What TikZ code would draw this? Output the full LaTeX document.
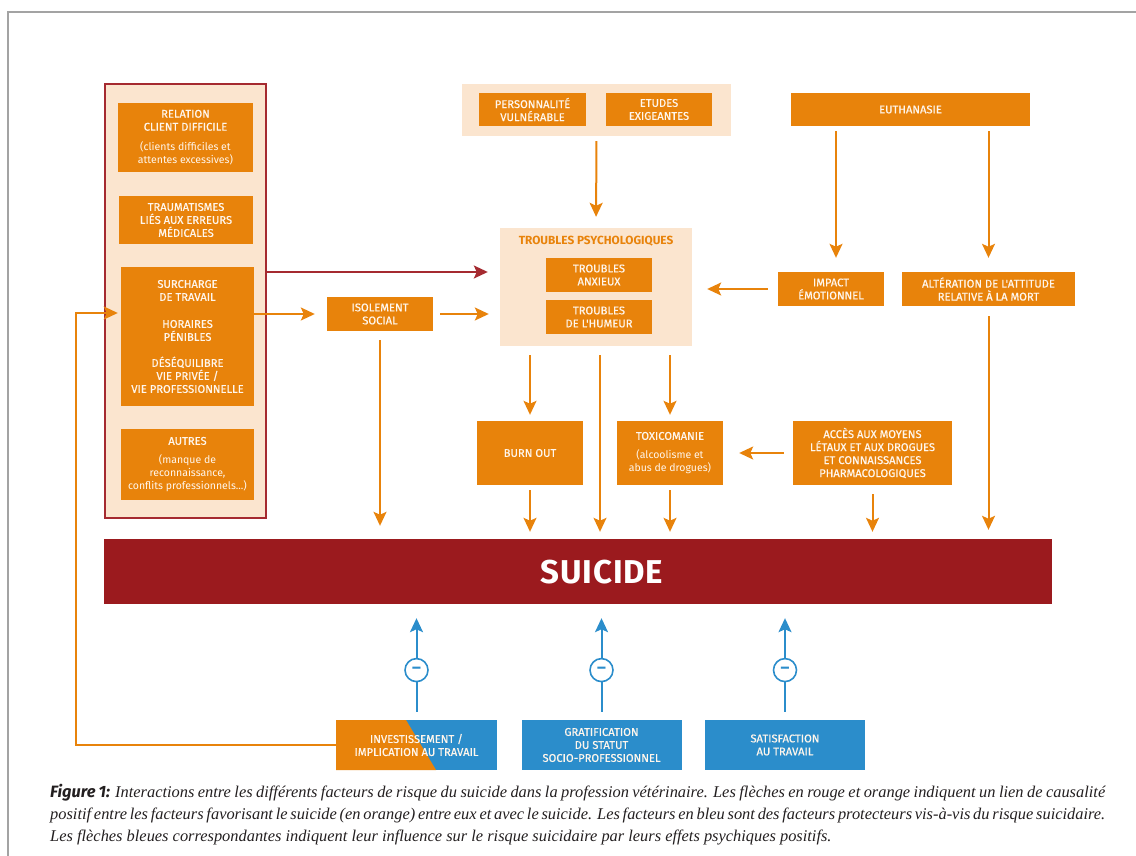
\documentclass[tikz,border=0pt]{standalone}
\usepackage{fontspec}
\setmainfont{Liberation Serif}
\newfontfamily\boxfont{Fira Sans}[FakeBold=0.6]
\newfontfamily\notefont{Fira Sans}
\newfontfamily\bigfont{Fira Sans}[LetterSpace=2.5]
\usetikzlibrary{arrows.meta,calc}

\definecolor{orng}{HTML}{E8830B}
\definecolor{peach}{HTML}{FBE5CF}
\definecolor{suired}{HTML}{9B1A1E}
\definecolor{edgered}{HTML}{A52A30}
\definecolor{blu}{HTML}{2B8DCB}
\definecolor{paper}{HTML}{FFF6EC}
\definecolor{rulegray}{HTML}{A3A3A3}
\definecolor{ink}{HTML}{231F20}

\newcommand{\notesize}{\notefont\fontsize{10.5}{13}\selectfont}

\begin{document}
\begin{tikzpicture}[x=1pt,y=-1pt,
  factor/.style={fill=orng,text=paper,align=center,inner sep=0pt,
    font=\boxfont\fontsize{11.2}{13}\selectfont},
  protect/.style={fill=blu,text=paper,align=center,inner sep=0pt,
    font=\boxfont\fontsize{11.2}{13}\selectfont,minimum width=160,minimum height=50},
  group/.style={fill=peach,inner sep=0pt},
  oarr/.style={draw=orng,line width=2pt,-{Stealth[width=13pt,length=14pt,inset=3pt]}},
  rarr/.style={oarr,draw=edgered},
  barr/.style={draw=blu,line width=2pt,-{Stealth[width=13pt,length=14pt,inset=3pt]}},
  minus/.style={circle,draw=blu,fill=white,line width=1.6pt,minimum size=23pt,
    inner sep=0pt,text=blu,font=\notefont\bfseries\fontsize{17}{17}\selectfont}
]
\useasboundingbox (0,0) rectangle (1136,856);

% page frame
\draw[rulegray,line width=2pt] (8,856) -- (8,12) -- (1136,12);

% working conditions group
\node[group,draw=edgered,line width=2pt,minimum width=161,minimum height=434] (lbox) at (185.5,301) {};
\node[factor,minimum width=135,minimum height=69] (rel) at (185.5,137.5)
  {RELATION\\CLIENT DIFFICILE\\[7pt]\notesize (clients difficiles et\\\notesize attentes excessives)};
\node[factor,minimum width=134,minimum height=48] (trau) at (186,220)
  {TRAUMATISMES\\LIÉS AUX ERREURS\\MÉDICALES};
\node[factor,minimum width=133,minimum height=139] (surch) at (187.5,336.5)
  {SURCHARGE\\DE TRAVAIL\\[14pt]HORAIRES\\PÉNIBLES\\[13pt]DÉSÉQUILIBRE\\VIE PRIVÉE /\\VIE PROFESSIONNELLE};
\node[factor,minimum width=133,minimum height=71] (autres) at (187.5,464.5)
  {AUTRES\\[6pt]\notesize (manque de\\\notesize reconnaissance,\\\notesize conflits professionnels...)};

% personal factors group
\node[group,minimum width=269,minimum height=52] (ptop) at (596.5,110) {};
\node[factor,minimum width=107,minimum height=33] (pers) at (532.5,109.5) {PERSONNALITÉ\\VULNÉRABLE};
\node[factor,minimum width=106,minimum height=33] (etud) at (659,109.5) {ETUDES\\EXIGEANTES};

% psychological disorders group
\node[group,minimum width=192,minimum height=118] (tp) at (596,287) {};
\node[text=orng,font=\notefont\bfseries\fontsize{11.8}{13}\selectfont] (tptitle) at (596,241) {TROUBLES PSYCHOLOGIQUES};
\node[factor,minimum width=106,minimum height=34] (anx) at (599,275) {TROUBLES\\ANXIEUX};
\node[factor,minimum width=106,minimum height=34] (hum) at (599,317) {TROUBLES\\DE L'HUMEUR};

\node[factor,minimum width=106,minimum height=34] (iso) at (380,314) {ISOLEMENT\\SOCIAL};

% euthanasia branch
\node[factor,minimum width=239,minimum height=33] (euth) at (910.5,109.5) {EUTHANASIE};
\node[factor,minimum width=106,minimum height=34] (imp) at (831,289) {IMPACT\\ÉMOTIONNEL};
\node[factor,minimum width=173,minimum height=34] (alt) at (988.5,289) {ALTÉRATION DE L'ATTITUDE\\RELATIVE À LA MORT};

% middle row
\node[factor,minimum width=106,minimum height=64] (bo) at (530,453) {BURN OUT};
\node[factor,minimum width=106,minimum height=64] (tox) at (670,453)
  {TOXICOMANIE\\[6pt]\notesize (alcoolisme et\\\notesize abus de drogues)};
\node[factor,minimum width=159,minimum height=64] (acc) at (872.5,453)
  {ACCÈS AUX MOYENS\\LÉTAUX ET AUX DROGUES\\ET CONNAISSANCES\\PHARMACOLOGIQUES};

% outcome bar
\node[fill=suired,minimum width=948,minimum height=65,inner sep=0pt] (suicide) at (578,571.5) {};
\node[text=white,font=\bigfont\bfseries\fontsize{33}{33}\selectfont] (suicidetext) at (602,572) {SUICIDE};

% protective factors
\node[protect,minimum width=161,
  path picture={\fill[orng] (path picture bounding box.north west) -- ([xshift=70pt]path picture bounding box.north west)
     -- ([xshift=100pt]path picture bounding box.south west) -- (path picture bounding box.south west) -- cycle;}]
  (inv) at (416.5,745) {INVESTISSEMENT /\\IMPLICATION AU TRAVAIL};
\node[protect] (grat) at (601.5,745) {GRATIFICATION\\DU STATUT\\SOCIO-PROFESSIONNEL};
\node[protect] (sat) at (785,745) {SATISFACTION\\AU TRAVAIL};

% helper coordinates
\coordinate (redy) at (0,272);
\coordinate (fbx) at (76,313);

% causal links
\draw[oarr,shorten <=5pt,shorten >=11pt] (ptop.south) -- (tp.north);
\draw[rarr,shorten >=12pt] (lbox.east |- redy) -- (tp.west |- redy);
\draw[oarr,shorten >=12pt] (surch.east |- iso) -- (iso.west);
\draw[oarr,shorten <=7pt,shorten >=11pt] (iso.east) -- (tp.west |- iso);
\draw[oarr,shorten <=9pt,shorten >=13pt] (iso.south) -- (iso.south |- suicide.north);
\draw[oarr,shorten <=9pt,shorten >=6pt] (tp.south -| bo) -- (bo.north);
\draw[oarr,shorten <=9pt,shorten >=7pt] ([xshift=4pt]tp.south) -- ([xshift=4pt]tp.south |- suicide.north);
\draw[oarr,shorten <=9pt,shorten >=6pt] (tp.south -| tox) -- (tox.north);
\draw[oarr,shorten <=5pt,shorten >=7pt] (bo.south) -- (bo.south |- suicide.north);
\draw[oarr,shorten <=5pt,shorten >=7pt] (tox.south) -- (tox.south |- suicide.north);
\draw[oarr,shorten <=9pt,shorten >=7pt] (acc.south) -- (acc.south |- suicide.north);
\draw[oarr,shorten <=9pt,shorten >=16pt] (acc.west) -- (tox.east |- acc.west);
\draw[oarr,shorten <=5pt,shorten >=14pt] ([xshift=5pt]imp.north |- euth.south) -- ([xshift=5pt]imp.north);
\draw[oarr,shorten <=5pt,shorten >=14pt] (alt.north |- euth.south) -- (alt.north);
\draw[oarr,shorten <=10pt,shorten >=15pt] (imp.west) -- (tp.east |- imp.west);
\draw[oarr,shorten <=10pt,shorten >=9pt] (alt.south) -- (alt.south |- suicide.north);
\draw[oarr,shorten >=3pt] (inv.west) -| (fbx) -- (surch.west |- fbx);

% protective links
\draw[barr,shorten <=8pt,shorten >=14pt] (inv.north) -- node[minus,pos=0.43]{–} (inv.north |- suicide.south);
\draw[barr,shorten <=8pt,shorten >=14pt] (grat.north) -- node[minus,pos=0.43]{–} (grat.north |- suicide.south);
\draw[barr,shorten <=8pt,shorten >=14pt] (sat.north) -- node[minus,pos=0.43]{–} (sat.north |- suicide.south);

% caption
\node[anchor=north west,inner sep=0pt,align=left,text=ink,
  font=\fontsize{16.4}{22}\selectfont\itshape] (caption) at (50,784)
  {\makebox[1055pt][s]{{\notefont\bfseries\itshape Figure 1:} Interactions entre les différents facteurs de risque du suicide dans la profession vétérinaire. Les flèches en rouge et orange indiquent un lien de causalité}\\
   \makebox[1055pt][s]{positif entre les facteurs favorisant le suicide (en orange) entre eux et avec le suicide. Les facteurs en bleu sont des facteurs protecteurs vis-à-vis du risque suicidaire.}\\
   Les flèches bleues correspondantes indiquent leur influence sur le risque suicidaire par leurs effets psychiques positifs.};
\end{tikzpicture}
\end{document}
